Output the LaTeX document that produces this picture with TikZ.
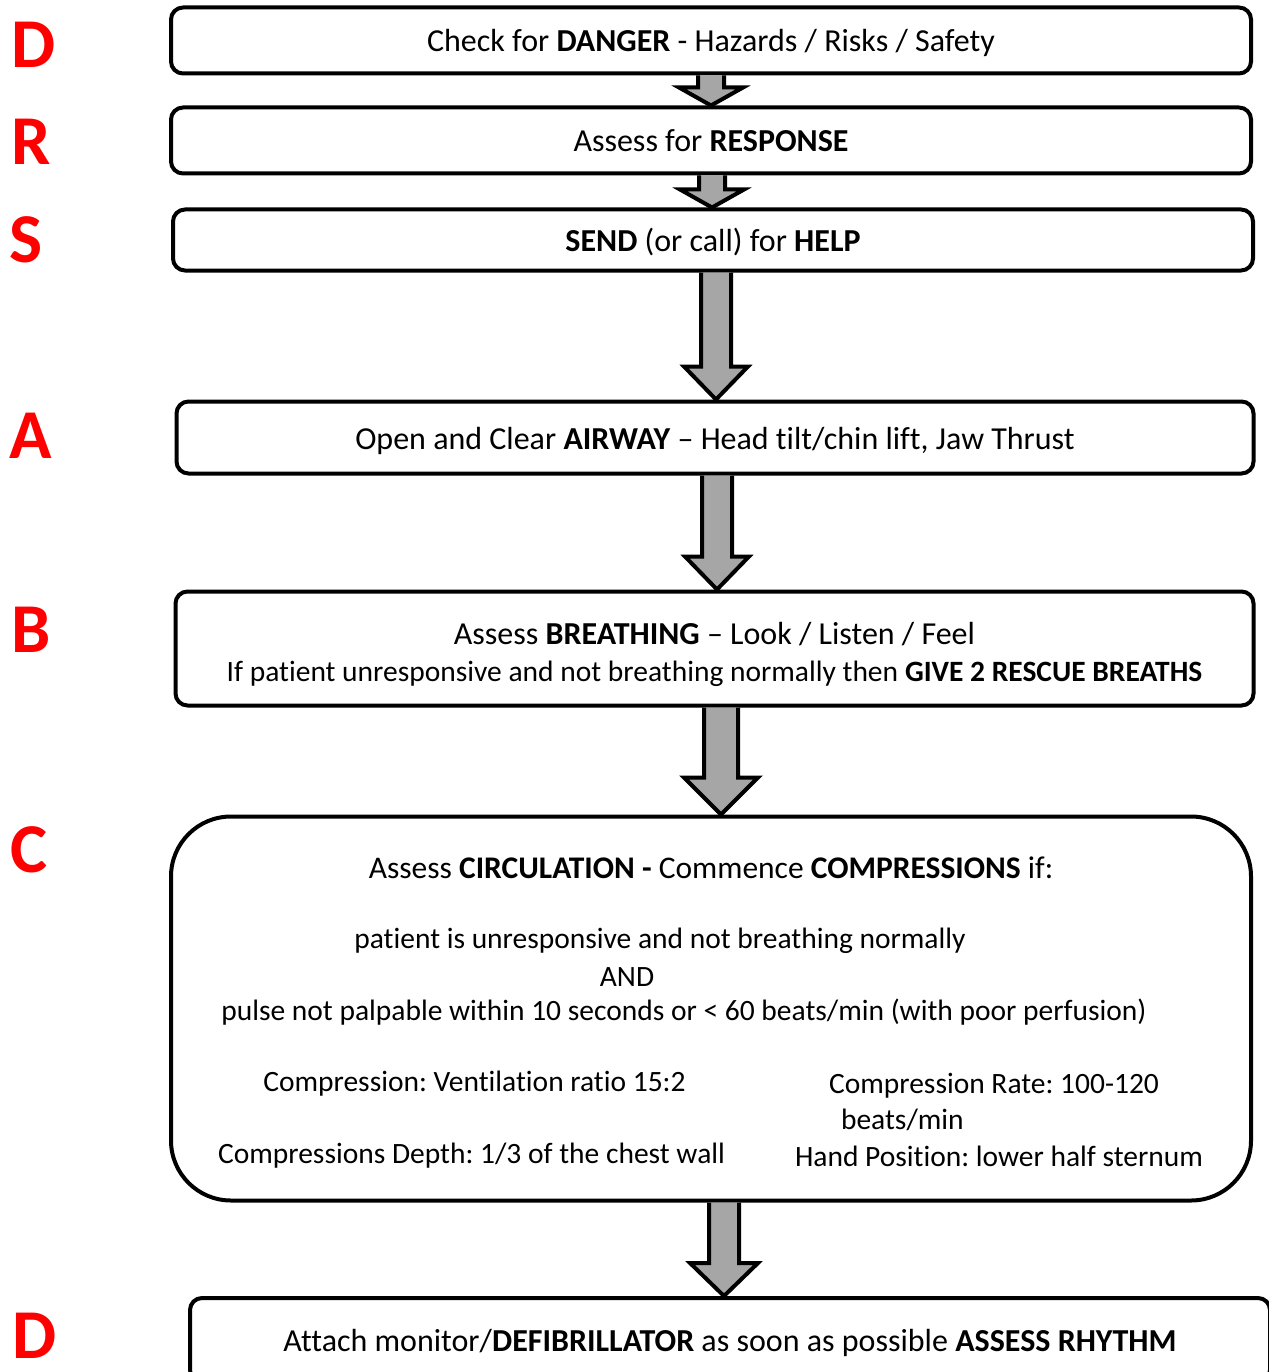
\documentclass[tikz,border=0pt]{standalone}
\usepackage{fontspec}
\setmainfont{Carlito}[Ligatures=CommonOff]
\frenchspacing
\usetikzlibrary{positioning, calc}
\definecolor{drsred}{RGB}{255, 0, 0}
\definecolor{arrowgrey}{RGB}{166, 166, 166}
\tikzset{
  stepbox/.style={
    draw=black,
    line width=4pt,
    rounded corners=12pt,
    fill=white,
    minimum width=1080pt,
    inner sep=0pt,
    align=center,
    font=\fontsize{32}{37}\selectfont
  },
  oneline/.style={
    text height=29pt,
    text depth=6pt
  },
  boxtext/.style={
    inner sep=0pt,
    font=\fontsize{29.5}{36}\selectfont
  },
  letter/.style={
    anchor=west,
    inner sep=0pt,
    text=drsred,
    font=\fontsize{70}{70}\selectfont\bfseries
  },
  blockarrow/.style={
    draw=black,
    line width=4pt,
    fill=arrowgrey,
    line join=miter
  }
}
% x, from, to, head length, shaft half width, head half width
\newcommand{\flowarrow}[6]{%
  \draw[blockarrow] (#1-#5,0 |- #2.south) -- ($(#1-#5,0 |- #3.north)+(0,-#4)$)
    -- ($(#1-#6,0 |- #3.north)+(0,-#4)$) -- (#1,0 |- #3.north)
    -- ($(#1+#6,0 |- #3.north)+(0,-#4)$) -- ($(#1+#5,0 |- #3.north)+(0,-#4)$)
    -- (#1+#5,0 |- #2.south);
}

\begin{document}
\begin{tikzpicture}[x=1pt, y=-1pt]
  \useasboundingbox (0,0) rectangle (1268,1372);

  % letters down the left side
  \node[letter] (ld) at (11,45) {D};
  \node[letter] (lr) at (11,142) {R};
  \node[letter] (ls) at (9,240) {S};
  \node[letter] (la) at (9,436) {A};
  \node[letter] (lb) at (11,630) {B};
  \node[letter] (lc) at (10,850) {C};
  \node[letter] (ld2) at (12,1336) {D};

  % steps
  \node[stepbox, oneline, minimum height=66pt] (danger) at (711,40.5)
    {Check for \textbf{DANGER} - Hazards / Risks / Safety};
  \node[stepbox, oneline, minimum height=66pt] (response) at (711,140.5)
    {Assess for \textbf{RESPONSE}};
  \node[stepbox, oneline, minimum height=61pt] (send) at (713,240)
    {\textbf{SEND} (or call) for \textbf{HELP}};
  \node[stepbox, oneline, minimum width=1077pt, minimum height=72pt] (airway) at (715,437.5)
    {Open and Clear \textbf{AIRWAY} -- Head tilt/chin lift, Jaw Thrust};
  \node[stepbox, minimum width=1078pt, minimum height=114pt] (breathing) at (714.5,648.5)
    {\rule{0pt}{34pt}Assess \textbf{BREATHING} -- Look / Listen / Feel\\
     {\fontsize{29.5}{37}\selectfont If patient unresponsive and not breathing normally then \textbf{GIVE 2 RESCUE BREATHS}}};
  \node[stepbox, minimum height=384pt, rounded corners=60pt] (circulation) at (711,1008.5) {};
  \node[stepbox, oneline, minimum height=84pt] (defib) at (730,1340)
    {Attach monitor/\textbf{DEFIBRILLATOR} as soon as possible \textbf{ASSESS RHYTHM}};

  % circulation text
  \node[boxtext, font=\fontsize{31.5}{37}\selectfont] (circ) at (711,868)
    {Assess \textbf{CIRCULATION -} Commence \textbf{COMPRESSIONS} if:};
  \node[boxtext] (cond1) at (660,941) {patient is unresponsive and not breathing normally};
  \node[boxtext] (and) at (627,977) {AND};
  \node[boxtext] (cond2) at (684,1012)
    {pulse not palpable within 10 seconds or < 60 beats/min (with poor perfusion)};
  \node[boxtext] (ratio) at (474.5,1084) {Compression: Ventilation ratio 15:2};
  \node[boxtext, align=left] (rate) at (994,1102)
    {Compression Rate: 100-120\\\hspace*{12pt}beats/min};
  \node[boxtext] (depth) at (471.5,1156) {Compressions Depth: 1/3 of the chest wall};
  \node[boxtext] (hand) at (999,1156) {Hand Position: lower half sternum};

  % arrows between steps
  \flowarrow{711}{danger}{response}{18}{13}{32}
  \flowarrow{712}{response}{send}{18}{13}{32}
  \flowarrow{716}{send}{airway}{33}{15}{32}
  \flowarrow{717}{airway}{breathing}{33}{15}{32}
  \flowarrow{721}{breathing}{circulation}{37}{17}{37}
  \flowarrow{724}{circulation}{defib}{33}{15}{34}
\end{tikzpicture}
\end{document}
